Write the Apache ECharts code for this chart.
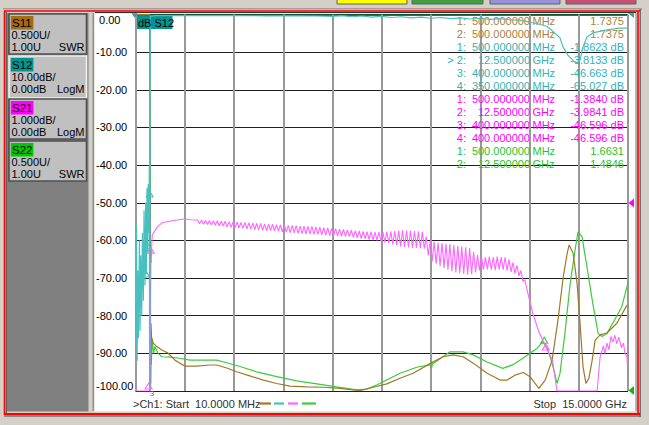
<!DOCTYPE html>
<html><head><meta charset="utf-8">
<script src="https://cdn.jsdelivr.net/npm/echarts@6.0.0/dist/echarts.min.js"></script>
<style>html,body{margin:0;padding:0;background:#d4d0c8;}#c{width:649px;height:425px;}</style>
</head><body><div id="c"></div>
<script>
// ---------- data (frequency in GHz, value in dB on the displayed scale) ----------
const yTickLabels = ['0.00','-10.00','-20.00','-30.00','-40.00','-50.00','-60.00','-70.00','-80.00','-90.00','-100.00'];
const chanNames = ['S11','S12','S21','S22'];
const chanScale = ['0.500U/','10.00dB/','1.000dB/','0.500U/'];
const chanRef = ['1.00U','0.00dB','0.00dB','1.00U'];
const chanFmt = ['SWR','LogM','LogM','SWR'];

const s11 = [[0.01,0],[0.44,0],[0.455,-46],[0.46,-50],[0.465,-79],[0.47,-98],[0.48,-82],[0.5,-86],[0.55,-87.3],[0.66,-88.2],[0.81,-89.1],[1.00,-89.9],[1.21,-91.8],[1.36,-92.6],[1.52,-93.4],[1.87,-93.4],[2.28,-93.1],[2.48,-93.1],[2.79,-93.9],[3.09,-94.9],[3.49,-96.0],[3.90,-97.1],[4.31,-98.0],[4.71,-98.7],[5.22,-98.9],[5.73,-99.0],[6.23,-99.3],[6.64,-99.7],[6.84,-99.9],[7.25,-99.0],[7.66,-98.1],[8.06,-96.6],[8.46,-95.3],[9.00,-92.6],[9.37,-90.9],[9.68,-90.4],[9.98,-90.9],[10.29,-92.6],[10.71,-95.3],[11.11,-97.1],[11.32,-97.1],[11.56,-95.8],[11.81,-95.1],[12.02,-96.2],[12.17,-98.0],[12.29,-99.3],[12.48,-97.1],[12.69,-91.8],[12.87,-81.1],[13.03,-69.6],[13.15,-63.4],[13.21,-61.2],[13.33,-63.4],[13.45,-71.4],[13.54,-82.0],[13.63,-93.5],[13.72,-98.0],[13.81,-96.6],[13.91,-91.8],[14.0,-86.5],[14.15,-85.1],[14.36,-84.6],[14.66,-82.0],[14.97,-77.2]];

const s12 = [[0.01,-62],[0.02,-88],[0.04,-56],[0.06,-92],[0.08,-68],[0.10,-86],[0.13,-60],[0.15,-84],[0.17,-64],[0.20,-80],[0.22,-58],[0.25,-76],[0.27,-52],[0.30,-72],[0.32,-50],[0.34,-69],[0.36,-46],[0.38,-63],[0.40,-45],[0.42,-58],[0.43,-40],[0.44,-100],[0.45,-98],[0.455,-6],[0.46,-0.5],[0.6,-0.3],[1.0,-0.3],[2.0,-0.3],[3.0,-0.3],[4.0,-0.35],[5.0,-0.35],[5.5,-0.4],[6.0,-0.5],[6.3,-0.3],[6.6,-0.6],[6.9,-0.4],[7.2,-0.7],[7.5,-0.5],[7.8,-0.8],[8.1,-0.6],[8.4,-0.9],[8.7,-0.7],[9.0,-1.0],[9.3,-0.8],[9.6,-1.1],[9.9,-0.9],[10.2,-1.2],[10.5,-1.0],[10.8,-1.3],[11.1,-1.1],[11.4,-1.4],[11.7,-1.5],[12.0,-2.0],[12.3,-2.6],[12.54,-3.2],[12.72,-4.5],[12.93,-6.2],[13.02,-8.6],[13.17,-10.8],[13.35,-12.4],[13.45,-12.8],[13.54,-12.1],[13.63,-8.6],[13.75,-6.0],[13.93,-4.9],[14.36,-4.1],[14.75,-3.6],[15.0,-3.6]];

const s21 = [[0.01,-100],[0.45,-100],[0.46,-92],[0.47,-75],[0.48,-64],[0.49,-66],[0.50,-62],[0.52,-58.5],[0.66,-56.6],[0.82,-55.3],[1.16,-54.7],[1.52,-54.3],[1.70,-54.5],
[1.90,-54.6],[1.96,-55.6],[2.02,-54.6],[2.08,-55.7],[2.14,-54.7],[2.20,-55.8],[2.26,-54.7],[2.32,-55.9],[2.38,-54.8],[2.44,-56.0],
[2.50,-54.8],[2.56,-56.1],[2.62,-54.9],[2.68,-56.2],[2.74,-54.9],[2.80,-56.4],[2.86,-55.0],[2.92,-56.5],[2.98,-55.1],[3.04,-56.6],
[3.10,-55.1],[3.16,-56.7],[3.22,-55.2],[3.28,-56.8],[3.34,-55.2],[3.40,-56.9],[3.46,-55.3],[3.52,-57.0],[3.58,-55.4],[3.64,-57.1],
[3.70,-55.5],[3.76,-57.2],[3.82,-55.5],[3.88,-57.3],[3.94,-55.6],[4.00,-57.4],[4.06,-55.7],[4.12,-57.4],[4.18,-55.7],[4.24,-57.5],
[4.30,-55.8],[4.36,-57.6],[4.42,-55.9],[4.48,-57.7],[4.54,-55.9],[4.60,-57.8],[4.66,-56.0],[4.72,-57.9],[4.78,-56.0],[4.84,-58.0],
[4.90,-56.1],[4.96,-58.1],[5.02,-56.2],[5.08,-58.2],[5.14,-56.2],[5.20,-58.3],[5.26,-56.3],[5.32,-58.3],[5.38,-56.3],[5.44,-58.4],
[5.50,-56.4],[5.56,-58.4],[5.62,-56.5],[5.68,-58.5],[5.74,-56.6],[5.80,-58.6],[5.86,-56.7],[5.92,-58.7],[5.98,-56.8],[6.04,-58.8],
[6.10,-56.9],[6.16,-58.8],[6.22,-57.0],[6.28,-58.9],[6.34,-57.1],[6.40,-58.9],[6.46,-57.2],[6.52,-59.0],[6.58,-57.3],[6.64,-59.2],
[6.70,-57.4],[6.76,-59.3],[6.82,-57.5],[6.88,-59.5],[6.94,-57.6],[7.00,-59.6],[7.06,-57.7],[7.12,-59.8],[7.18,-57.7],[7.24,-59.9],
[7.30,-57.8],[7.36,-60.0],[7.42,-57.8],[7.48,-60.2],[7.54,-57.8],[7.60,-60.5],[7.66,-57.7],[7.72,-60.8],[7.78,-57.6],[7.84,-61.1],
[7.90,-57.5],[7.96,-61.3],[8.02,-57.4],[8.08,-61.6],[8.14,-57.3],[8.20,-61.8],[8.26,-57.4],[8.32,-61.9],[8.38,-57.4],[8.44,-62.0],
[8.50,-57.5],[8.56,-62.0],[8.62,-57.6],[8.68,-62.1],[8.74,-57.8],[8.80,-62.2],[8.86,-59.0],[8.92,-64.0],[8.98,-60.2],[9.04,-65.5],
[9.10,-60.4],[9.16,-66.2],[9.22,-60.6],[9.28,-66.8],[9.34,-60.7],[9.40,-67.3],[9.46,-60.9],[9.52,-67.8],[9.58,-61.0],[9.64,-68.2],
[9.70,-61.2],[9.76,-68.5],[9.82,-61.4],[9.88,-68.7],[9.94,-61.6],[10.00,-68.9],[10.06,-61.8],[10.12,-69.1],[10.18,-62.0],[10.24,-69.0],
[10.30,-63.0],[10.36,-68.5],[10.42,-63.8],[10.48,-68.0],[10.54,-64.3],[10.60,-67.8],[10.66,-64.4],[10.72,-67.7],[10.78,-64.3],[10.84,-67.8],
[10.90,-64.4],[10.96,-67.9],[11.02,-64.3],[11.08,-67.7],[11.14,-64.4],[11.20,-67.8],[11.26,-64.5],[11.32,-68.0],[11.38,-65.0],[11.44,-68.4],
[11.50,-65.8],[11.56,-68.8],[11.62,-66.6],[11.68,-69.4],[11.74,-68.0],[11.80,-70.8],[11.86,-70.5],[11.92,-72.8],
[12.0,-75.8],[12.1,-79.3],[12.3,-84.6],[12.5,-88.3],[12.7,-91.8],[12.84,-100],[14.06,-100],[14.15,-91],[14.25,-88],[14.3,-90],[14.36,-87.3],[14.42,-89],[14.48,-85.5],[14.54,-87],[14.6,-85.2],[14.66,-87.5],[14.72,-85.7],[14.8,-88.5],[14.86,-87.3],[14.91,-90],[14.97,-91],[14.98,-93]];

const s22 = [[0.01,0],[0.44,0],[0.45,-4],[0.455,-34],[0.46,-46],[0.465,-80],[0.47,-99],[0.48,-84],[0.49,-93],[0.52,-86],[0.56,-90],[0.60,-88.2],[0.70,-90.0],[0.81,-90.9],[1.06,-91.0],[1.36,-91.3],[1.67,-91.8],[1.87,-91.8],[2.48,-91.8],[2.79,-92.5],[3.19,-93.5],[3.70,-94.9],[4.31,-96.2],[4.92,-97.3],[5.53,-98.1],[6.13,-98.9],[6.74,-99.7],[7.05,-99.5],[7.35,-98.4],[7.76,-96.6],[8.06,-95.3],[8.57,-93.7],[9.0,-93.0],[9.02,-94.0],[9.05,-92.8],[9.37,-90.9],[9.58,-89.6],[9.98,-89.6],[10.29,-90.4],[10.71,-92.3],[11.19,-94.0],[11.5,-93.0],[11.8,-91.3],[12.02,-90.0],[12.23,-88.7],[12.41,-86.9],[12.53,-88.2],[12.69,-92.6],[12.84,-98.0],[12.93,-95.3],[13.08,-84.7],[13.24,-71.4],[13.39,-62.5],[13.48,-57.7],[13.6,-59.0],[13.75,-67.0],[13.91,-75.8],[14.09,-84.7],[14.21,-85.5],[14.36,-84.7],[14.6,-81.0],[14.81,-77.6],[14.97,-72.3],[15.0,-71.0]];

// marker triangles drawn on the traces [GHz, dB]
const s12Markers = [[0.44,-47.7],[0.36,-61.4],[0.33,-68.9]];
const s21Markers = [[0.47,-62.6],[0.41,-98.7],[12.5,-88.3]];
const s22Markers = [[12.45,-86.5]];

// marker readout table
const mkChan = [0,0,1,1,1,1,2,2,2,2,3,3];
const mkNum = ['1:','2:','1:','> 2:','3:','4:','1:','2:','3:','4:','1:','2:'];
const mkFreq = ['500.000000','500.000000','500.000000','12.500000','400.000000','350.000000','500.000000','12.500000','400.000000','400.000000','500.000000','12.500000'];
const mkUnit = ['MHz','MHz','MHz','GHz','MHz','MHz','MHz','GHz','MHz','MHz','MHz','GHz'];
const mkVal = ['1.7375','1.7375','-1.8623 dB','-3.8133 dB','-46.663 dB','-65.027 dB','-1.3840 dB','-3.9841 dB','-46.596 dB','-46.596 dB','1.6631','1.4846'];

const startText = '>Ch1: Start  10.0000 MHz';
const stopText = 'Stop  15.0000 GHz';

// ---------- styling ----------
const traceColors = ['#a07828','#48c0c0','#ff66ff','#3ccc3c'];
const tagColors = ['#a46c14','#009494','#ff00ff','#00c800'];
const tableColors = ['#a8823c','#36b2b2','#ff00ff','#28c428'];
const FONT = '"Liberation Sans", Arial, sans-serif';

const G = [];
function rect(x,y,w,h,fill,stroke,lw,z){G.push({type:'rect',silent:true,z:z===undefined?-5:z,shape:{x:x,y:y,width:w,height:h},style:{fill:fill||'none',stroke:stroke||null,lineWidth:lw||0}});}
function line(x1,y1,x2,y2,stroke,lw,z){G.push({type:'line',silent:true,z:z===undefined?-4:z,shape:{x1:x1,y1:y1,x2:x2,y2:y2},style:{stroke:stroke,lineWidth:lw||1}});}
function poly(pts,fill,z){G.push({type:'polygon',silent:true,z:z===undefined?6:z,shape:{points:pts},style:{fill:fill}});}
function text(x,y,t,fill,size,align,z){G.push({type:'text',silent:true,z:z===undefined?8:z,x:x,y:y,style:{text:t,fill:fill||'#000',font:(size||11)+'px '+FONT,textAlign:align||'left',textVerticalAlign:'middle',align:align||'left',verticalAlign:'middle'}});}

// window frame
rect(0,0,649,425,'#d4d0c8',null,0,-20);
const btns = [[337,70,'#ffff00'],[412,71,'#40a040'],[490,70,'#9494dc'],[566,70,'#c45476']];
btns.forEach(b=>{rect(b[0],-1,b[1],5,b[2],'#606060',1,-3);});
line(3,8.8,642,8.8,'#8a8a8a',1,-3);
line(4,11,640,11,'#ff0000',1.6,-3);
line(95,12.6,636,12.6,'#202020',1,-3);
line(4.5,11,4.5,415,'#ff0000',1.6,-3);
line(6.3,12,6.3,414,'#404040',1,-3);
line(4,414,640,414,'#ff0000',1.8,-3);
line(4,416,640,416,'#404040',1,-3);
line(638,11,638,415,'#ff0000',1.6,-3);
line(640.2,9,640.2,417,'#404040',1,-3);
line(636,13,636,411,'#909090',1,-3);
// plot panel
rect(94.5,13,541,398.5,'#ffffff',null,0,-10);
line(93.2,13,93.2,411,'#808080',1.2,-3);
// left channel panel
rect(7,13,81.5,398.5,'#808080',null,0,-10);
const boxTop = [14,56,99,141], boxH = [40,42,40,40];
chanNames.forEach((n,i)=>{
  const t = boxTop[i];
  rect(9,t,77.5,boxH[i],'#c0c0c0',i===1?'#f0f0f0':'#505050',1.6,-6);
  rect(10.8,t+2,22.6,13.5,tagColors[i],null,0,-5);
  text(12,t+9,n,'#000',11.5,'left');
  text(11.5,t+20.6,chanScale[i],'#000',11,'left');
  text(11.5,t+33.2,chanRef[i],'#000',11,'left');
  text(84.5,t+33.2,chanFmt[i],'#000',11,'right');
});
// top green reference line and corner markers
line(136,15.2,628,15.2,'#00884c',1.4,1);
poly([[131.5,13.2],[137.5,13.2],[134.5,17.8]],'#2aa0a0',6);
poly([[628,13.2],[634,13.2],[634,18]],'#2aa0a0',6);
poly([[634,198.5],[634,207.5],[628.5,203]],'#ff00ff',6);
poly([[634,386],[634,395],[628.5,390.5]],'#00c000',6);
// active trace tag
rect(137,15.5,35.5,13.5,'#009494',null,0,6);
text(138,22.5,'dB S12','#000',11,'left',9);
// marker readout table
mkNum.forEach((m,i)=>{
  const y = 20.5 + 13*i, c = tableColors[mkChan[i]];
  text(466,y,m,c,11,'right',4);
  text(530,y,mkFreq[i],c,11,'right',4);
  text(532.5,y,mkUnit[i],c,11,'left',4);
  text(624,y,mkVal[i],c,11,'right',4);
});
// bottom status texts and trace-colour legend
text(133,403.5,startText,'#303030',11,'left');
text(627,403.5,stopText,'#303030',11,'right');
const legendX = [[259,271],[274,284],[288,298],[302,316]];
legendX.forEach((p,i)=>line(p[0],403.5,p[1],403.5,traceColors[i],2.2,8));
text(152,393.2,'3','#ff00ff',8,'center');

function mk(list,color){
  return {symbol:'triangle',symbolSize:[7,6],silent:true,animation:false,
    itemStyle:{color:'rgba(255,255,255,0)',borderColor:color,borderWidth:1.1},
    label:{show:false},data:list.map(p=>({coord:[p[0],p[1]]}))};
}
function ser(name,data,color,z,markers,w){
  return {name:name,type:'line',data:data,xAxisIndex:0,yAxisIndex:0,showSymbol:false,symbol:'none',
    lineStyle:{width:w||1.2,color:color},itemStyle:{color:color},animation:false,z:z,
    markPoint:markers?mk(markers,color):undefined};
}

const chart = echarts.init(document.getElementById('c'),null,{renderer:'svg'});
chart.setOption({
  animation:false,
  backgroundColor:'#d4d0c8',
  grid:{left:135.5,right:21,top:14.5,bottom:34,containLabel:false},
  xAxis:[
    {type:'value',min:0.01,max:15,show:true,axisLine:{show:false},axisTick:{show:false},axisLabel:{show:false},splitLine:{show:false}},
    {type:'value',min:0,max:10,interval:1,z:1,axisLine:{show:false},axisTick:{show:false},axisLabel:{show:false},
      splitLine:{show:true,lineStyle:{color:'#999999',width:2}}}
  ],
  yAxis:{type:'value',min:-100,max:0,interval:10,axisLine:{show:false},axisTick:{show:false},
    axisLabel:{color:'#000',fontSize:11,fontFamily:FONT,align:'left',margin:39.5,
      verticalAlignMaxLabel:'top',verticalAlignMinLabel:'bottom',
      formatter:function(v){const i=Math.round(-v/10);const s=yTickLabels[i];return i===0?' '+s:s;}},
    splitLine:{show:true,lineStyle:{color:'#1e1e1e',width:1}}},
  graphic:{elements:G},
  series:[
    ser('S22',s22,traceColors[3],3,s22Markers),
    ser('S11',s11,traceColors[0],4),
    ser('S21',s21,traceColors[2],5,s21Markers,1.1),
    ser('S12',s12,traceColors[1],6,s12Markers)
  ]
});
</script></body></html>
